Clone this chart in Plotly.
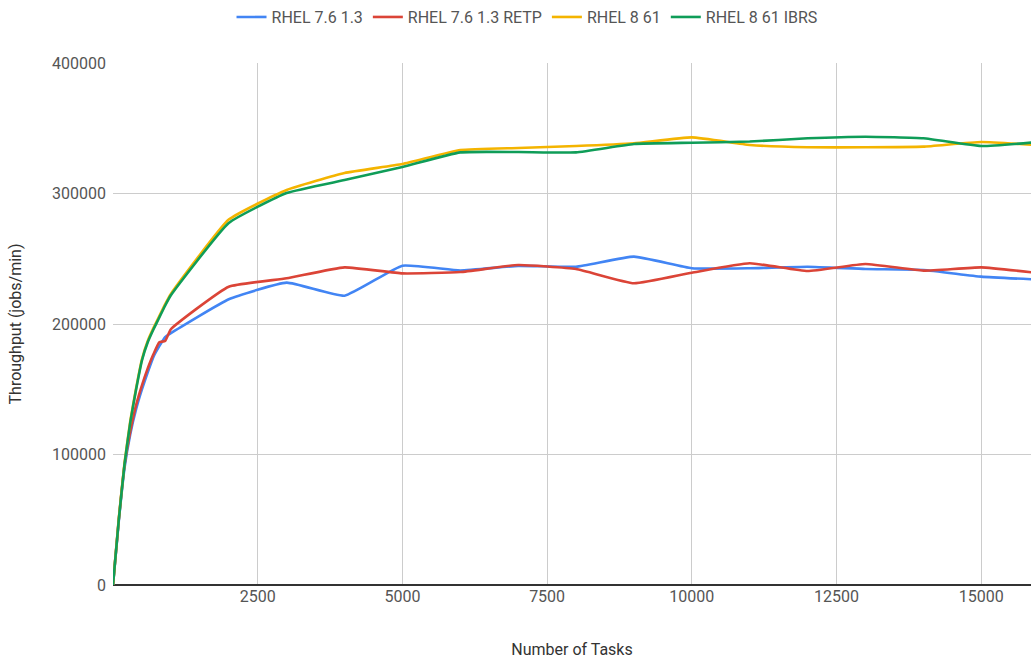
import plotly.graph_objects as go

tasks = [0, 100, 200, 300, 400, 500, 600, 700, 800, 900, 1000,
         2000, 3000, 4000, 5000, 6000, 7000, 8000, 9000, 10000,
         11000, 12000, 13000, 14000, 15000, 16000]

rhel76 = [0, 49000, 90000, 116000, 135000, 150000, 163000, 175000, 183000, 190000, 193000,
          219000, 231700, 221700, 244700, 241000, 244500, 243900, 251600, 242700,
          242700, 243900, 242100, 241400, 236300, 234000]
rhel76_retp = [0, 50000, 92000, 118000, 138000, 153000, 166000, 177000, 186000, 187000, 196000,
               228600, 235000, 243400, 238800, 239800, 245200, 242100, 231200, 239300,
               246500, 240600, 246000, 240900, 243400, 239000]
rhel8 = [0, 51000, 94000, 126000, 151000, 173000, 187000, 197000, 206000, 215000, 223000,
         280000, 302700, 315700, 322600, 333300, 334900, 336400, 338500, 343000,
         337200, 335400, 335400, 335900, 339500, 337000]
rhel8_ibrs = [0, 50000, 93000, 125000, 150000, 172000, 186000, 196000, 205000, 214000, 222000,
              277400, 300400, 310300, 320300, 331500, 331800, 331500, 337900, 338900,
              339800, 342300, 343500, 342300, 336400, 339500]

series_names = ["RHEL 7.6 1.3", "RHEL 7.6 1.3 RETP", "RHEL 8 61", "RHEL 8 61 IBRS"]
series_values = [rhel76, rhel76_retp, rhel8, rhel8_ibrs]
colors = ["#4285F4", "#DB4437", "#F4B400", "#0F9D58"]

x_ticks = [2500, 5000, 7500, 10000, 12500, 15000]
y_ticks = [0, 100000, 200000, 300000, 400000]

fig = go.Figure()
for name, vals, col in zip(series_names, series_values, colors):
    fig.add_trace(go.Scatter(
        x=tasks, y=vals, name=name, mode="lines",
        line=dict(color=col, width=2.6, shape="spline", smoothing=0.4),
    ))

font_family = "Roboto, Arial, sans-serif"
fig.update_layout(
    width=1031, height=659,
    margin=dict(l=113, r=0, t=63, b=74),
    paper_bgcolor="white", plot_bgcolor="white",
    font=dict(family=font_family, size=16, color="#555555"),
    showlegend=True,
    legend=dict(orientation="h", x=0.451, xanchor="center", y=1.088, yanchor="middle",
                font=dict(size=16, color="#555555"), itemwidth=30,
                bgcolor="rgba(0,0,0,0)"),
    xaxis=dict(
        range=[0, 15860], tickvals=x_ticks, ticktext=[str(v) for v in x_ticks],
        showgrid=True, gridcolor="#cccccc", gridwidth=1,
        zeroline=False, showline=False, ticks="",
        tickfont=dict(size=16, color="#555555"),
        title=dict(text="Number of Tasks", font=dict(size=16, color="#333333"), standoff=43),
    ),
    yaxis=dict(
        range=[0, 400000], tickvals=y_ticks, ticktext=[str(v) for v in y_ticks],
        showgrid=True, gridcolor="#cccccc", gridwidth=1,
        zeroline=True, zerolinecolor="#333333", zerolinewidth=1.5,
        showline=False, ticks="", ticklabelstandoff=6,
        tickfont=dict(size=16, color="#555555"),
        title=dict(text="Throughput (jobs/min)", font=dict(size=16, color="#333333"), standoff=26),
    ),
)

fig.write_html("out.html")
